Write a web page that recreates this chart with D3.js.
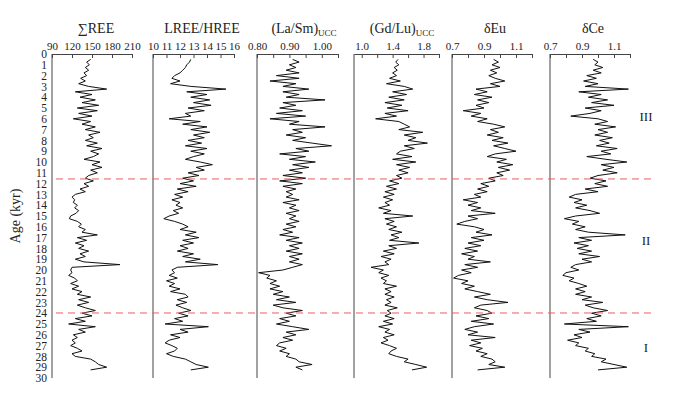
<!DOCTYPE html>
<html>
<head>
<meta charset="utf-8">
<script src="https://cdn.jsdelivr.net/npm/d3@7"></script>
<style>
  body { margin: 0; background: #fff; }
  svg text { font-family: "Liberation Serif", "Times New Roman", serif; fill: #222; }
</style>
</head>
<body>
<div id="chart"></div>
<script>
// age grid (kyr) shared by all series
const ages = [
  0.5, 0.75, 1, 1.25, 1.5, 1.75, 2, 2.25, 2.5, 2.75, 3, 3.25, 3.5, 3.75, 4, 4.25, 4.5, 4.75, 5, 5.25,
  5.5, 5.75, 6, 6.25, 6.5, 6.75, 7, 7.25, 7.5, 7.75, 8, 8.25, 8.5, 8.75, 9, 9.25, 9.5, 9.75, 10, 10.25,
  10.5, 10.75, 11, 11.25, 11.5, 11.75, 12, 12.25, 12.5, 12.75, 13, 13.25, 13.5, 13.75, 14, 14.25, 14.5, 14.75, 15, 15.25,
  15.5, 15.75, 16, 16.25, 16.5, 16.75, 17, 17.25, 17.5, 17.75, 18, 18.25, 18.5, 18.75, 19, 19.25, 19.5, 19.75, 20, 20.25,
  20.5, 20.75, 21, 21.25, 21.5, 21.75, 22, 22.25, 22.5, 22.75, 23, 23.25, 23.5, 23.75, 24, 24.25, 24.5, 24.75, 25, 25.25,
  25.5, 25.75, 26, 26.25, 26.5, 26.75, 27, 27.25, 27.5, 27.75, 28, 28.25, 28.5, 28.75, 29, 29.25
];

const sumREE = [
  148, 142, 146, 140, 145, 138, 142, 133, 140, 130, 145, 172, 125, 150, 132, 155, 135, 160, 128, 158,
  130, 150, 122, 148, 135, 155, 140, 162, 145, 152, 140, 158, 142, 165, 148, 160, 152, 138, 162, 150,
  165, 148, 158, 145, 140, 152, 138, 145, 132, 140, 125, 120, 124, 122, 128, 124, 130, 126, 118, 116,
  128, 134, 130, 140, 135, 158, 128, 142, 125, 138, 130, 145, 132, 140, 125, 138, 192, 120, 118, 120,
  115, 124, 128, 118, 130, 120, 135, 128, 148, 130, 145, 128, 140, 155, 135, 150, 125, 140, 115, 155,
  130, 140, 122, 128, 120, 125, 118, 128, 135, 120, 125, 148, 155, 160, 172, 148
];

const lreeHree = [
  12.8, 12.7, 12.5, 12.4, 12.2, 12.0, 11.6, 11.4, 12.0, 11.3, 12.8, 15.4, 12.5, 14.0, 12.8, 14.2, 13.0, 14.3, 12.6, 13.8,
  12.4, 12.8, 11.2, 13.5, 12.2, 14.0, 12.8, 14.2, 13.0, 13.8, 12.6, 13.6, 12.4, 14.0, 12.8, 13.8, 13.0, 12.4, 13.5, 14.4,
  13.2, 13.8, 12.6, 13.4, 12.2, 13.0, 12.0, 13.2, 11.8, 12.6, 11.6, 12.2, 11.4, 12.0, 11.7, 12.2, 11.5, 11.9, 11.2, 10.8,
  11.6, 12.2, 12.6, 12.0, 13.2, 12.4, 13.4, 12.2, 13.0, 12.0, 12.6, 11.8, 13.0, 12.2, 13.5, 12.4, 14.8, 11.8, 11.4, 11.6,
  11.2, 11.8, 11.0, 11.6, 11.2, 12.0, 11.3, 12.4, 12.6, 11.8, 12.5, 11.7, 12.2, 12.8, 11.9, 12.6, 11.6, 12.2, 10.9, 14.1,
  12.0, 12.6, 11.3, 12.0, 11.2, 10.9, 11.4, 11.8, 11.6, 11.0, 11.5, 12.4, 12.8, 13.2, 14.1, 12.8
];

const laSm = [
  0.91, 0.93, 0.90, 0.92, 0.89, 0.93, 0.86, 0.93, 0.84, 0.92, 0.88, 0.96, 0.88, 0.93, 0.89, 1.01, 0.88, 0.92, 0.87, 0.94,
  0.86, 0.95, 0.84, 0.93, 0.90, 1.01, 0.91, 0.94, 0.89, 0.95, 0.91, 0.97, 1.03, 0.92, 0.96, 0.87, 0.95, 0.90, 0.98, 0.91,
  0.96, 0.90, 0.94, 0.88, 0.95, 0.87, 0.94, 0.88, 0.92, 0.89, 0.91, 0.89, 0.93, 0.88, 0.92, 0.90, 0.93, 0.89, 0.92, 0.90,
  0.93, 0.89, 0.92, 0.88, 0.91, 0.87, 0.93, 0.89, 0.94, 0.90, 0.93, 0.89, 0.94, 0.90, 0.93, 0.90, 0.94, 0.91, 0.88, 0.805,
  0.84, 0.83, 0.86, 0.84, 0.87, 0.84, 0.88, 0.85, 0.90, 0.86, 0.92, 0.85, 0.88, 0.94, 0.89, 0.92, 0.87, 0.90, 0.86, 0.91,
  0.96, 0.89, 0.92, 0.88, 0.91, 0.87, 0.86, 0.89, 0.87, 0.90, 0.89, 0.92, 0.93, 0.97, 0.92, 0.94
];

const gdLu = [
  1.47, 1.44, 1.48, 1.42, 1.46, 1.40, 1.45, 1.36, 1.50, 1.32, 1.55, 1.66, 1.40, 1.58, 1.35, 1.55, 1.30, 1.52, 1.33, 1.60,
  1.30, 1.45, 1.18, 1.48, 1.55, 1.62, 1.48, 1.79, 1.55, 1.70, 1.60, 1.85, 1.55, 1.68, 1.50, 1.45, 1.65, 1.40, 1.70, 1.45,
  1.62, 1.48, 1.60, 1.45, 1.52, 1.36, 1.48, 1.32, 1.45, 1.30, 1.42, 1.28, 1.40, 1.30, 1.36, 1.22, 1.38, 1.28, 1.66, 1.30,
  1.42, 1.32, 1.45, 1.35, 1.52, 1.38, 1.48, 1.36, 1.74, 1.35, 1.45, 1.28, 1.42, 1.25, 1.38, 1.30, 1.35, 1.12, 1.28, 1.22,
  1.35, 1.25, 1.32, 1.28, 1.45, 1.30, 1.38, 1.30, 1.42, 1.32, 1.38, 1.30, 1.46, 1.33, 1.38, 1.30, 1.42, 1.28, 1.40, 1.22,
  1.36, 1.30, 1.42, 1.28, 1.34, 1.25, 1.36, 1.45, 1.38, 1.35, 1.45, 1.60, 1.55, 1.70, 1.84, 1.65
];

const dEu = [
  0.96, 0.99, 0.95, 1.00, 0.94, 0.98, 0.93, 0.97, 1.03, 0.94, 1.00, 0.85, 0.92, 0.84, 0.95, 0.86, 0.93, 0.85, 0.90, 0.77,
  0.88, 0.82, 0.92, 0.86, 0.96, 1.03, 0.94, 0.99, 0.92, 1.02, 0.95, 1.05, 0.96, 1.03, 1.10, 0.97, 0.92, 1.04, 0.98, 1.08,
  0.99, 1.06, 0.98, 1.02, 0.93, 0.97, 0.88, 0.93, 0.86, 0.92, 0.84, 0.88, 0.77, 0.86, 0.80, 0.88, 0.82, 0.97, 0.80, 0.86,
  0.78, 0.73, 0.84, 0.90, 0.85, 0.95, 0.82, 0.90, 0.80, 0.88, 0.78, 0.86, 0.76, 0.84, 0.80, 0.94, 0.78, 0.86, 0.76, 0.82,
  0.74, 0.71, 0.80, 0.76, 0.84, 0.78, 0.86, 0.94, 0.84, 0.92, 1.05, 0.88, 0.84, 0.92, 0.95, 0.85, 0.93, 0.82, 0.96, 0.84,
  0.78, 0.86, 0.80, 0.97, 0.82, 0.88, 0.81, 0.89, 0.85, 0.92, 0.88, 0.95, 0.97, 0.93, 1.03, 0.86
];

const dCe = [
  0.97, 1.00, 0.98, 1.03, 0.97, 1.02, 0.93, 0.99, 0.91, 1.00, 0.92, 1.19, 0.88, 1.02, 0.94, 1.06, 0.96, 1.10, 0.92, 1.02,
  0.95, 0.83, 1.00, 1.06, 0.98, 1.11, 1.00, 1.06, 0.98, 1.09, 1.01, 1.07, 0.99, 1.12, 1.02, 1.08, 0.93, 1.05, 1.18, 1.02,
  1.10, 1.03, 1.12, 1.00, 0.95, 1.05, 0.98, 1.06, 0.92, 1.00, 0.86, 0.82, 0.90, 0.85, 0.93, 0.86, 0.95, 1.01, 0.86, 0.79,
  0.88, 0.84, 0.92, 0.86, 0.94, 1.17, 0.88, 0.96, 0.85, 0.94, 0.87, 0.96, 0.88, 1.01, 0.90, 0.96, 0.86, 0.83, 0.88, 0.80,
  0.78, 0.85, 0.82, 0.88, 0.93, 0.86, 0.92, 0.86, 0.96, 0.90, 1.03, 0.92, 0.97, 1.06, 0.96, 1.02, 0.93, 0.99, 0.79, 1.19,
  0.88, 0.95, 0.85, 0.90, 0.81, 0.88, 0.86, 0.94, 0.92, 0.98, 0.96, 1.05, 1.02, 1.10, 1.18, 1.00
];

// y-axis ticks, zone boundaries and zone labels
const ageTicks = d3.range(0, 31);
const boundaries = [11.57, 23.98];
const zoneLabels = ["III", "II", "I"];
const zoneAges = [5.83, 17.3, 27.2];

const W = 678, H = 399;
const plotTop = 54, plotBottom = 378;

const svg = d3.select("#chart").append("svg")
  .attr("width", W)
  .attr("height", H);

const y = d3.scaleLinear().domain([0, 30]).range([plotTop, plotBottom]);

// panel settings
const panels = [
  { name: "sum", title: "∑REE", sub: null, values: sumREE, domain: [90, 210], left: 52, right: 132,
    ticks: [90, 120, 150, 180, 210], labels: [90, 120, 150, 180, 210], fmt: d3.format("d"), tx: 96 },
  { name: "lh", title: "LREE/HREE", sub: null, values: lreeHree, domain: [10, 16], left: 153, right: 234,
    ticks: [10, 11, 12, 13, 14, 15, 16], labels: [10, 11, 12, 13, 14, 15, 16], fmt: d3.format("d"), tx: 202 },
  { name: "lasm", title: "(La/Sm)", sub: "UCC", values: laSm, domain: [0.80, 1.05], left: 257, right: 338,
    ticks: [0.80, 0.85, 0.90, 0.95, 1.00, 1.05], labels: [0.80, 0.90, 1.00], fmt: d3.format(".2f"), tx: 304 },
  { name: "gdlu", title: "(Gd/Lu)", sub: "UCC", values: gdLu, domain: [0.9, 2.0], left: 354, right: 439,
    ticks: [1.0, 1.2, 1.4, 1.6, 1.8, 2.0], labels: [1.0, 1.4, 1.8], fmt: d3.format(".1f"), tx: 402 },
  { name: "eu", title: "δEu", sub: null, values: dEu, domain: [0.7, 1.2], left: 452, right: 532,
    ticks: [0.7, 0.8, 0.9, 1.0, 1.1, 1.2], labels: [0.7, 0.9, 1.1], fmt: d3.format(".1f"), tx: 495 },
  { name: "ce", title: "δCe", sub: null, values: dCe, domain: [0.7, 1.2], left: 550, right: 630,
    ticks: [0.7, 0.8, 0.9, 1.0, 1.1, 1.2], labels: [0.7, 0.9, 1.1], fmt: d3.format(".1f"), tx: 593 }
];

const near = (a, b) => Math.abs(a - b) < 1e-6;

panels.forEach(p => {
  const x = d3.scaleLinear().domain(p.domain).range([p.left, p.right]);
  const g = svg.append("g").attr("class", "panel " + p.name);

  // top axis, ticks pointing into the plot
  const axis = d3.axisTop(x)
    .tickValues(p.ticks)
    .tickSizeInner(-4)
    .tickSizeOuter(0)
    .tickPadding(4)
    .tickFormat(d => p.labels.some(l => near(l, d)) ? p.fmt(d) : "");

  const ax = g.append("g")
    .attr("transform", "translate(0," + plotTop + ")")
    .call(axis);
  ax.select(".domain").attr("stroke", "#444");
  ax.selectAll(".tick line").attr("stroke", "#444");
  ax.selectAll("text").attr("font-size", 11).attr("fill", "#222")
    .attr("font-family", "Liberation Serif, serif");

  // left frame line
  g.append("line")
    .attr("x1", p.left).attr("x2", p.left)
    .attr("y1", plotTop).attr("y2", plotBottom)
    .attr("stroke", "#444");

  // title
  const t = g.append("text")
    .attr("x", p.tx).attr("y", 33)
    .attr("text-anchor", "middle")
    .attr("font-size", 14);
  t.append("tspan").text(p.title);
  if (p.sub) t.append("tspan").attr("font-size", 9).attr("dy", 3).text(p.sub);

  // data curve
  const line = d3.line()
    .x(d => x(d[1]))
    .y(d => y(d[0]));
  const pts = ages.map((a, i) => [a, p.values[i]]).filter(d => d[1] != null);
  g.append("path")
    .datum(pts)
    .attr("fill", "none")
    .attr("stroke", "#111")
    .attr("stroke-width", 1)
    .attr("d", line);
});

// shared age axis on the first panel
const yAxis = d3.axisLeft(y)
  .tickValues(ageTicks)
  .tickSize(0)
  .tickPadding(5)
  .tickFormat(d3.format("d"));
const yg = svg.append("g")
  .attr("transform", "translate(52,0)")
  .call(yAxis);
yg.select(".domain").remove();
yg.selectAll("text").attr("font-size", 11.5).attr("fill", "#222")
  .attr("font-family", "Liberation Serif, serif");

svg.append("text")
  .attr("transform", "translate(20,216) rotate(-90)")
  .attr("text-anchor", "middle")
  .attr("font-size", 14)
  .text("Age (kyr)");

// zone boundaries
svg.selectAll("line.boundary")
  .data(boundaries)
  .join("line")
  .attr("class", "boundary")
  .attr("x1", 56).attr("x2", 655)
  .attr("y1", d => y(d)).attr("y2", d => y(d))
  .attr("stroke", "#e8605f")
  .attr("stroke-width", 1)
  .attr("stroke-dasharray", "7,5");

// zone labels
svg.selectAll("text.zone")
  .data(zoneLabels)
  .join("text")
  .attr("class", "zone")
  .attr("x", 646)
  .attr("y", (d, i) => y(zoneAges[i]) + 4.5)
  .attr("text-anchor", "middle")
  .attr("font-size", 13)
  .text(d => d);
</script>
</body>
</html>
